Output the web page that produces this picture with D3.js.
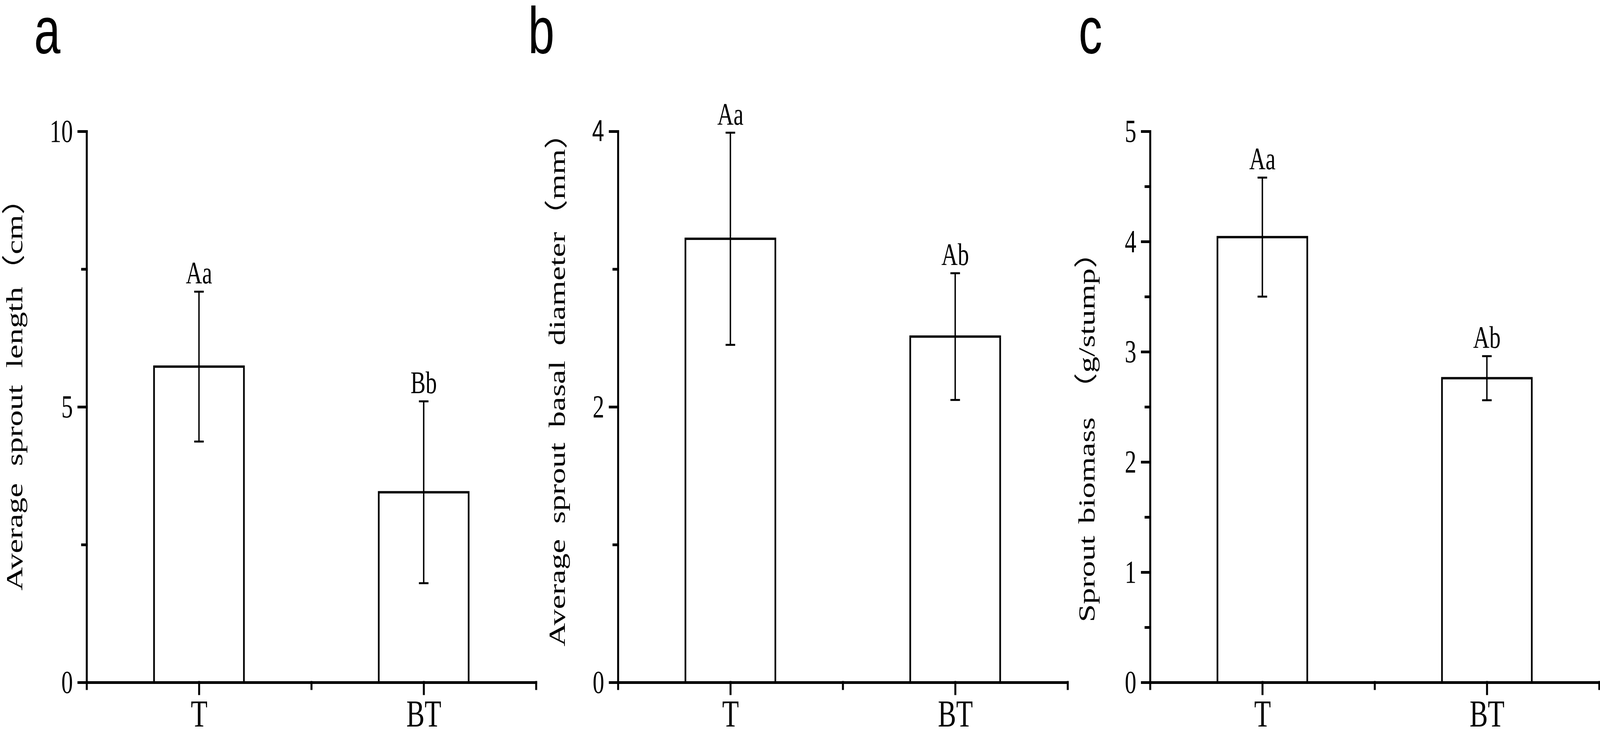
<!DOCTYPE html>
<html>
<head>
<meta charset="utf-8">
<script src="https://cdn.jsdelivr.net/npm/d3@7"></script>
<style>
  html, body { margin: 0; padding: 0; background: #fff; overflow: hidden; }
  svg { display: block; width: 100vw; height: 100vh; }
</style>
</head>
<body>
<script>
// data
var categories = ["T", "BT"];

var lengthMean = [5.73, 3.45];
var lengthErr = [1.36, 1.65];
var lengthLetters = ["Aa", "Bb"];

var diameterMean = [3.22, 2.51];
var diameterErr = [0.77, 0.46];
var diameterLetters = ["Aa", "Ab"];

var biomassMean = [4.04, 2.76];
var biomassErr = [0.54, 0.20];
var biomassLetters = ["Aa", "Ab"];

var lengthTicks = [0, 5, 10];
var lengthMinor = [2.5, 7.5];
var diameterTicks = [0, 2, 4];
var diameterMinor = [1, 3];
var biomassTicks = [0, 1, 2, 3, 4, 5];
var biomassMinor = [0.5, 1.5, 2.5, 3.5, 4.5];

var W = 5683, H = 1873;
// (window.top is read-only, so not "top")
var plotTop = 336, plotBottom = 1746;
var titleSize = 83;
var serif = "'Liberation Serif', 'Times New Roman', 'Noto Sans CJK SC', serif";
var sans = "'Liberation Sans', Arial, sans-serif";

// drawn in 5683x1873 units, stretched over the whole window
var svg = d3.select("body").append("svg")
    .attr("viewBox", "0 0 " + W + " " + H)
    .attr("preserveAspectRatio", "none");

// ty = where the title starts (bottom), tlen = visible length of the title
var panels = [
    {letter: "a", lx: 121, left: 307.7, right: 1904, max: 10, ticks: lengthTicks, minor: lengthMinor,
     mean: lengthMean, err: lengthErr, marks: lengthLetters,
     title: "Average sprout length（cm）", tx: 79, ty: 1511, tlen: 1003},
    {letter: "b", lx: 1876, left: 2195, right: 3792, max: 4, ticks: diameterTicks, minor: diameterMinor,
     mean: diameterMean, err: diameterErr, marks: diameterLetters,
     title: "Average sprout basal diameter（mm）", tx: 2006, ty: 1654, tlen: 1314},
    {letter: "c", lx: 3831, left: 4085, right: 5680, max: 5, ticks: biomassTicks, minor: biomassMinor,
     mean: biomassMean, err: biomassErr, marks: biomassLetters,
     title: "Sprout biomass （g/stump）", tx: 3888, ty: 1592, tlen: 947}
];

panels.forEach(function (p) {
    var g = svg.append("g");

    var x = d3.scaleLinear().domain([0.5, 2.5]).range([p.left, p.right]);
    var y = d3.scaleLinear().domain([0, p.max]).range([plotBottom, plotTop]);

    // panel letter
    svg.append("text")
        .attr("x", p.lx)
        .attr("y", 136)
        .attr("font-family", sans)
        .attr("font-size", 168)
        .text(p.letter);

    // bars
    g.selectAll(".bar")
        .data(p.mean)
        .enter().append("rect")
        .attr("x", function (d, i) { return x(i + 1 - 0.2); })
        .attr("width", function (d, i) { return x(i + 1 + 0.2) - x(i + 1 - 0.2); })
        .attr("y", function (d) { return y(d); })
        .attr("height", function (d) { return y(0) - y(d); })
        .attr("fill", "#fff")
        .attr("stroke", "#000")
        .attr("stroke-width", 6);

    // error bars
    var eb = g.selectAll(".err")
        .data(p.mean)
        .enter().append("g")
        .attr("stroke", "#000")
        .attr("stroke-width", 5);
    eb.append("line")
        .attr("x1", function (d, i) { return x(i + 1); })
        .attr("x2", function (d, i) { return x(i + 1); })
        .attr("y1", function (d, i) { return y(d - p.err[i]); })
        .attr("y2", function (d, i) { return y(d + p.err[i]); });
    [-1, 1].forEach(function (s) {
        eb.append("line")
            .attr("x1", function (d, i) { return x(i + 1) - 17; })
            .attr("x2", function (d, i) { return x(i + 1) + 17; })
            .attr("y1", function (d, i) { return y(d + s * p.err[i]); })
            .attr("y2", function (d, i) { return y(d + s * p.err[i]); });
    });

    // significance letters
    g.selectAll(".mark")
        .data(p.marks)
        .enter().append("text")
        .attr("x", function (d, i) { return x(i + 1); })
        .attr("y", function (d, i) { return y(p.mean[i] + p.err[i]) - 21; })
        .attr("text-anchor", "middle")
        .attr("font-family", serif)
        .attr("font-size", 80)
        .text(function (d) { return d; });

    // x axis
    var xMinor = g.append("g")
        .attr("transform", "translate(0," + plotBottom + ")")
        .call(d3.axisBottom(x).tickValues([0.5, 1.5, 2.5]).tickSize(16).tickSizeOuter(0).tickFormat(""));
    var xAxis = g.append("g")
        .attr("transform", "translate(0," + plotBottom + ")")
        .call(d3.axisBottom(x).tickValues([1, 2]).tickSize(29).tickSizeOuter(0).tickPadding(15)
            .tickFormat(function (d) { return categories[d - 1]; }));

    // y axis
    var yMinor = g.append("g")
        .attr("transform", "translate(" + p.left + ",0)")
        .call(d3.axisLeft(y).tickValues(p.minor).tickSize(16).tickSizeOuter(0).tickFormat(""));
    var yAxis = g.append("g")
        .attr("transform", "translate(" + p.left + ",0)")
        .call(d3.axisLeft(y).tickValues(p.ticks).tickSize(29).tickSizeOuter(0).tickPadding(20)
            .tickFormat(d3.format("d")));

    [xMinor, xAxis, yMinor, yAxis].forEach(function (a) {
        a.selectAll("path, line")
            .attr("stroke", "#000")
            .attr("stroke-width", 7)
            .attr("stroke-linecap", "square");
        a.selectAll("text").attr("fill", "#000").attr("font-family", serif);
    });
    xAxis.selectAll("text").attr("font-size", 97);
    yAxis.selectAll("text").attr("font-size", 82);
    xMinor.select(".domain").remove();
    yMinor.select(".domain").remove();

    // the "4" in panel b is set in a sans face in the original
    if (p.letter == "b") {
        yAxis.selectAll("text")
            .filter(function (d) { return d == 4; })
            .attr("font-family", sans)
            .attr("font-size", 77);
    }

    // y title; spaces widened so the title spans what it does in the original
    // (the closing full-width paren leaves about half an em blank)
    var t = svg.append("text")
        .attr("transform", "translate(" + p.tx + "," + p.ty + ") rotate(-90)")
        .attr("text-anchor", "start")
        .attr("font-family", serif)
        .attr("font-size", titleSize)
        .text(p.title);
    var natural = t.node().getComputedTextLength();
    var spaces = p.title.split(" ").length - 1;
    var target = p.tlen + titleSize * 0.5;
    if (spaces > 0) t.attr("word-spacing", Math.max(0, (target - natural) / spaces));
});
</script>
</body>
</html>
